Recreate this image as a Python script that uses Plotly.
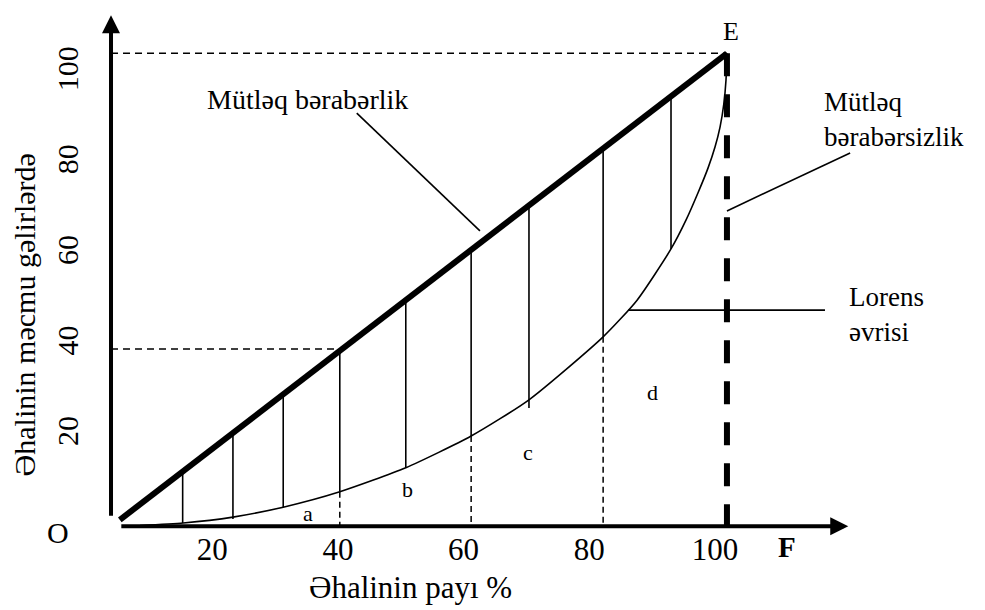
import numpy as np
import plotly.graph_objects as go

# ---- data (axis units: population share %, income share %) ----
x_ticks = [20, 40, 60, 80, 100]
x_tick_text = ["20", "40", "60", "80", "100"]
y_ticks = [20, 40, 60, 80, 100]
y_tick_text = ["20", "40", "60", "80", "100"]

# absolute equality line (O -> E)
equal_x = [5.3, 101.9]
equal_y = [1.4, 104.4]

# Lorenz curve
lorenz_x = [8.5, 15.4, 23.3, 31.3, 40.3, 50.8, 61.2, 70.4, 82.2, 87.6, 93.0,
            95.4, 97.3, 98.9, 100.0, 100.8, 101.4, 101.75, 101.9]
lorenz_y = [0.15, 0.7, 2.0, 4.2, 7.6, 12.9, 19.9, 27.9, 41.8, 49.9, 61.2,
            67.6, 73.6, 79.1, 83.7, 88.1, 93.2, 98.5, 104.4]

# hatching between equality line and Lorenz curve
hatch_x = [15.3, 23.3, 31.3, 40.3, 50.8, 61.2, 70.4, 82.2, 93.0]
hatch_bottom = [0.7, 1.6, 4.2, 7.6, 12.9, 19.9, 26.1, 41.8, 61.2]

# dashed drops from curve to the x axis
drop_x = [40.3, 61.2, 82.2]
drop_top = [7.6, 19.9, 41.8]

# dashed guides to the y axis
guide_y = [104.4, 39.1]
guide_x_end = [101.9, 40.3]
axis_x0 = 3.9

# absolute inequality (vertical at E)
ineq_x = 101.9

# region labels
region_labels = ["a", "b", "c", "d"]
region_x = [35.2, 51.0, 70.2, 90.1]
region_y = [2.9, 8.0, 16.2, 29.6]

FONT = "Liberation Serif, Times New Roman, serif"
BLACK = "#000000"

X_RANGE = [0.557, 123.07]
Y_RANGE = [-1.28, 113.95]

fig = go.Figure()


def seg_trace(xs, ys, width, dash="solid"):
    fig.add_trace(go.Scatter(x=xs, y=ys, mode="lines",
                             line=dict(color=BLACK, width=width, dash=dash),
                             hoverinfo="skip", showlegend=False))


# hatch lines (top on the equality line)
hatch_top = np.interp(hatch_x, equal_x, equal_y)
hx, hy = [], []
for x, t, b in zip(hatch_x, hatch_top, hatch_bottom):
    hx += [x, x, None]
    hy += [t, b, None]
seg_trace(hx, hy, 1.6)

# dashed drops
dx, dy = [], []
for x, t in zip(drop_x, drop_top):
    dx += [x, x, None]
    dy += [t, 0, None]
seg_trace(dx, dy, 1.5, "6px,4px")

# dashed guides
gx, gy = [], []
for y, xe in zip(guide_y, guide_x_end):
    gx += [axis_x0, xe, None]
    gy += [y, y, None]
seg_trace(gx, gy, 1.5, "7px,5px")

# Lorenz curve
fig.add_trace(go.Scatter(x=lorenz_x, y=lorenz_y, mode="lines",
                         line=dict(color=BLACK, width=1.6, shape="spline", smoothing=0.6),
                         hoverinfo="skip", showlegend=False))

# absolute inequality thick dashed line
seg_trace([ineq_x, ineq_x], [equal_y[1], 0], 6, "23px,18px")

# equality line
seg_trace(equal_x, equal_y, 6)

# leader lines
seg_trace([43.0, 62.6, None, 121.5, 101.9, None, 86.2, 117.5],
          [91.2, 65.2, None, 82.4, 69.6, None, 47.7, 47.7], 1.6)

annotations = []
# axes with arrow heads
annotations.append(dict(x=axis_x0, y=112.8, ax=axis_x0, ay=2.0, xref="x", yref="y",
                        axref="x", ayref="y", showarrow=True, arrowhead=2,
                        arrowwidth=4, arrowsize=0.9, arrowcolor=BLACK, text=""))
annotations.append(dict(x=121.2, y=0, ax=5.3, ay=0, xref="x", yref="y",
                        axref="x", ayref="y", showarrow=True, arrowhead=2,
                        arrowwidth=4, arrowsize=0.9, arrowcolor=BLACK, text=""))


def label(text, x, y, size, xanchor="center", bold=False, angle=0, paper=False):
    if paper:  # convert axis units to paper units (for labels outside the axis range)
        x = (x - X_RANGE[0]) / (X_RANGE[1] - X_RANGE[0])
        y = (y - Y_RANGE[0]) / (Y_RANGE[1] - Y_RANGE[0])
    annotations.append(dict(text=f"<b>{text}</b>" if bold else text, x=x, y=y,
                            xref="paper" if paper else "x",
                            yref="paper" if paper else "y", showarrow=False,
                            xanchor=xanchor, yanchor="middle", textangle=angle,
                            align="left" if xanchor == "left" else "center",
                            font=dict(family=FONT, size=size, color=BLACK)))


label("Mütləq bərabərlik", 35.1, 94.3, 28)
label("Mütləq<br>bərabərsizlik", 117.0, 89.7, 27, xanchor="left")
label("Lorens<br>əvrisi", 121.0, 46.7, 27, xanchor="left")
label("E", 102.5, 109.1, 26)
label("O", -4.5, -1.5, 30, paper=True)
label("F", 111.4, -4.6, 29, bold=True, paper=True)
for t, x, y in zip(region_labels, region_x, region_y):
    label(t, x, y, 22)
label("Əhalinin payı %", 51.5, -13.6, 31, paper=True)
label("Əhalinin məcmu gəlirlərdə", -9.9, 46.6, 30, angle=-90, paper=True)

fig.update_layout(
    width=985, height=610,
    margin=dict(l=82, r=133, t=2, b=86, autoexpand=False),
    paper_bgcolor="white", plot_bgcolor="white",
    showlegend=False,
    annotations=annotations,
    xaxis=dict(range=X_RANGE, showgrid=False, zeroline=False, showline=False,
               ticks="", tickvals=x_ticks, ticktext=x_tick_text, automargin=False,
               ticklabelstandoff=-4,
               tickfont=dict(family=FONT, size=31, color=BLACK), fixedrange=True),
    yaxis=dict(range=Y_RANGE, showgrid=False, zeroline=False, showline=False,
               ticks="", tickvals=y_ticks, ticktext=y_tick_text, tickangle=-90,
               automargin=False, ticklabelstandoff=5,
               tickfont=dict(family=FONT, size=30, color=BLACK), fixedrange=True),
)

fig.write_html("out.html")
